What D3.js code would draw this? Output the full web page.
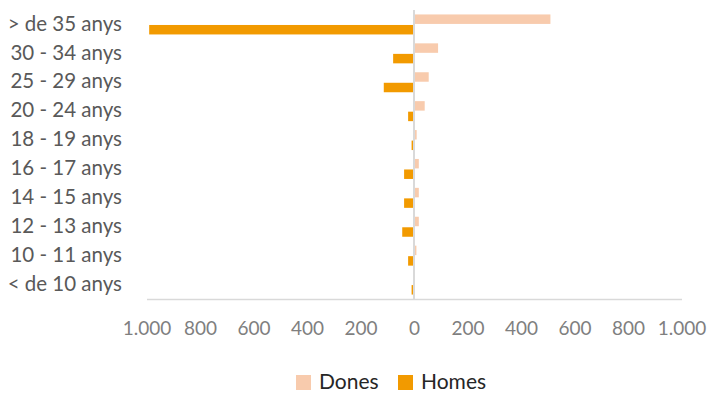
<!DOCTYPE html>
<html>
<head>
<meta charset="utf-8">
<script src="https://cdn.jsdelivr.net/npm/d3@7"></script>
<style>
  html, body { margin: 0; padding: 0; background: #fff; }
  svg { display: block; }
  text { font-family: Lato, "Open Sans", sans-serif; }
</style>
</head>
<body>
<svg id="chart" width="710" height="394"></svg>
<script>
// Data (top to bottom)
const categories = ["> de 35 anys", "30 - 34 anys", "25 - 29 anys", "20 - 24 anys", "18 - 19 anys",
                    "16 - 17 anys", "14 - 15 anys", "12 - 13 anys", "10 - 11 anys", "< de 10 anys"];
const dones = [510, 90, 55, 40, 10, 18, 18, 18, 9, 1];
const homes = [990, 78, 113, 22, 9, 37, 37, 44, 22, 9];
const seriesNames = ["Dones", "Homes"];
const seriesColors = ["#F8CBAD", "#F29A00"];
const tickValues = [-1000, -800, -600, -400, -200, 0, 200, 400, 600, 800, 1000];

const svg = d3.select("#chart");
const locale = d3.formatLocale({decimal: ",", thousands: ".", grouping: [3], currency: ["", "€"]});
const fmt = locale.format(",");

const x = d3.scaleLinear().domain([-1000, 1000]).range([146.5, 681.5]);
const y = d3.scaleBand().domain(categories).range([10, 299]).paddingInner(0.308).paddingOuter(0.154);
const ys = d3.scaleBand().domain(seriesNames).range([0, y.bandwidth()]).paddingInner(0.1);

const rows = categories.map((c, i) => ({cat: c, Dones: dones[i], Homes: -homes[i]}));

// bars
seriesNames.forEach((s, si) => {
  svg.append("g").selectAll("rect").data(rows).join("rect")
    .attr("x", d => Math.min(x(0), x(d[s])))
    .attr("y", d => y(d.cat) + ys(s))
    .attr("width", d => Math.abs(x(d[s]) - x(0)))
    .attr("height", ys.bandwidth())
    .attr("fill", seriesColors[si]);
});

// zero line
svg.append("line")
  .attr("x1", x(0)).attr("x2", x(0))
  .attr("y1", 10).attr("y2", 299)
  .attr("stroke", "#d9d9d9").attr("stroke-width", 2);

// bottom axis
const xAxis = d3.axisBottom(x).tickValues(tickValues).tickSize(0).tickPadding(0)
  .tickFormat(d => fmt(Math.abs(d)));
const gx = svg.append("g").attr("transform", "translate(0,299)").call(xAxis);
gx.select(".domain").attr("stroke", "#d9d9d9").attr("stroke-width", 1.5);
gx.selectAll("text")
  .attr("y", 36).attr("dy", 0)
  .attr("fill", "#7f7f7f")
  .style("font-size", "19px")
  .style("font-family", "Lato, sans-serif");

// left category labels
const yAxis = d3.axisLeft(y).tickSize(0).tickPadding(0);
const gy = svg.append("g").attr("transform", "translate(122,0)").call(yAxis);
gy.select(".domain").remove();
gy.selectAll("text")
  .attr("x", 0).attr("dy", "0.3em")
  .attr("fill", "#595959")
  .style("font-size", "20.5px")
  .style("font-family", "Lato, sans-serif");

// legend
const legend = svg.append("g").attr("transform", "translate(0,382)");
const legItems = [{name: "Dones", x: 296}, {name: "Homes", x: 398}];
legItems.forEach((it, i) => {
  legend.append("rect").attr("x", it.x).attr("y", -7).attr("width", 15).attr("height", 15)
    .attr("fill", seriesColors[i]);
  legend.append("text").attr("x", it.x + 23).attr("y", 0).attr("dy", "0.35em")
    .attr("fill", "#262626").style("font-size", "21px").text(it.name);
});
</script>
</body>
</html>
